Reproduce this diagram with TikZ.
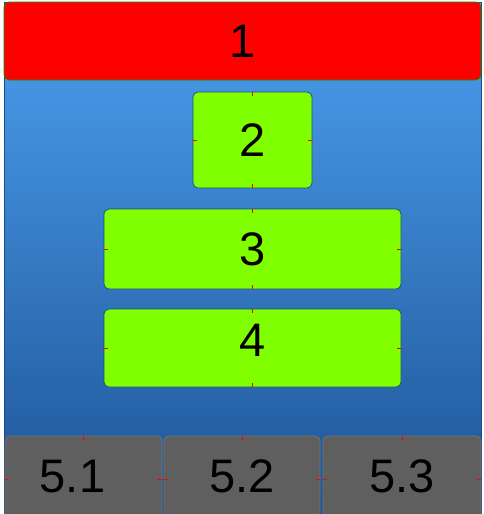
\documentclass[tikz,border=0pt]{standalone}
\usepackage{fontspec}
\setmainfont{Liberation Sans}
\definecolor{panetop}{HTML}{4CA0F0}
\definecolor{panebot}{HTML}{1E5496}
\definecolor{paneline}{HTML}{1A4A8A}
\definecolor{leafgreen}{HTML}{80FF00}
\definecolor{slate}{HTML}{5F5F5F}
\tikzset{
  box/.style={draw=paneline,fill=leafgreen,rounded corners=5pt,line width=.7pt,inner sep=0pt,
    font=\fontsize{47}{52}\selectfont},
  head/.style={box,fill=red,draw=green!60!black},
  foot/.style={box,fill=slate,draw=black!55},
  tick/.style={red,line width=.8pt}
}
\begin{document}
\begin{tikzpicture}[x=1pt,y=-1pt]
\useasboundingbox (0,0) rectangle (483,514);
\clip (0,0) rectangle (483,514);
\shade[top color=panetop,bottom color=panebot,draw=paneline] (4,2) rectangle (481,514);

\node[head,minimum width=477pt,minimum height=78pt] (n1) at (242.5,41) {1};
\node[box,minimum width=119pt,minimum height=96pt] (n2) at (252.5,140) {2};
\node[box,minimum width=297pt,minimum height=80pt] (n3) at (252.5,249) {3};
\node[box,minimum width=297pt,minimum height=78pt,text depth=16pt] (n4) at (252.5,348) {4};

\node[foot,minimum width=157pt,minimum height=86pt,text depth=6pt] (n51) at (83.5,479) {\hspace*{-22pt}5.1};
\node[foot,minimum width=156pt,minimum height=86pt,text depth=6pt] (n52) at (242,479) {5.2};
\node[foot,minimum width=158pt,minimum height=86pt,text depth=6pt] (n53) at (402,479) {5.3};

% guide ticks
\foreach \b in {n2,n3,n4,n51,n52,n53}{
  \draw[tick] (\b.north) -- ++(0,4);
  \draw[tick] (\b.west) -- ++(4,0);
  \draw[tick] (\b.east) -- ++(-4,0);
}
\draw[tick] (n2.south) -- ++(0,-4);
\draw[tick] (n3.south) -- ++(0,-4);
\draw[tick] (n4.south) -- ++(0,-4);
\end{tikzpicture}
\end{document}
